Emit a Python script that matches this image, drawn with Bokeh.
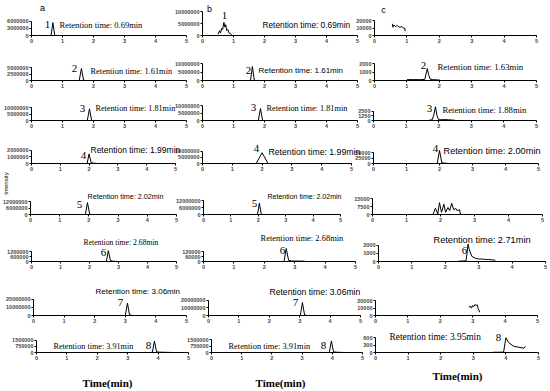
import math
from bokeh.plotting import figure
from bokeh.layouts import row, column
from bokeh.models import Range1d, FixedTicker, Label
from bokeh.embed import file_html
from bokeh.resources import INLINE

# ----------------------------- data -----------------------------
x_ticks = [0, 1, 2, 3, 4, 5]
x_title = "Time(min)"
y_title = "Intensity"
letters = ["a", "b", "c"]

# y tick labels (top, middle) per row
a_ticks = [("6000000", "3000000"), ("5000000", "2500000"), ("10000000", "5000000"), ("2000000", "1000000"),
           ("12000000", "6000000"), ("1200000", "600000"), ("20000000", "10000000"), ("1500000", "750000")]
b_ticks = [("10000000", "5000000"), ("10000000", "5000000"), ("10000000", "5000000"), ("10000000", "5000000"),
           ("12000000", "6000000"), ("120000", "60000"), ("20000000", "10000000"), ("1500000", "750000")]
c_ticks = [("20000", "10000"), ("2000", "1000"), ("2500", "1250"), ("50000", "25000"),
           ("15000", "7500"), ("2000", "1000"), ("20000", "10000"), ("600", "300")]

# peak numbers and retention times
a_peak = ["1", "2", "3", "4", "5", "6", "7", "8"]
b_peak = ["1", "2", "3", "4", "5", "6", "7", "8"]
c_peak = [None, "2", "3", "4", None, "6", None, "8"]
a_rt = ["0.69", "1.61", "1.81", "1.99", "2.02", "2.68", "3.06", "3.91"]
b_rt = ["0.69", "1.61", "1.81", "1.99", "2.02", "2.68", "3.06", "3.91"]
c_rt = [None, "1.63", "1.88", "2.00", None, "2.71", None, "3.95"]

# traces: time (min) and intensity
a1_t = [0, 0.63, 0.69, 0.75, 5]
a1_i = [0, 0, 5400000, 0, 0]
b1_t = [0.5, 0.55, 0.58, 0.62, 0.65, 0.69, 0.72, 0.75, 0.78, 0.82, 0.86, 0.9, 0.95]
b1_i = [500000, 2000000, 1000000, 3000000, 2500000, 5500000, 3500000, 4500000, 2000000, 2500000, 1000000, 800000, 0]
c1_t = [0.55, 0.57, 0.6, 0.65, 0.7, 0.75, 0.8, 0.85, 0.9, 0.93, 0.95]
c1_i = [15600, 11000, 14000, 12000, 13300, 11500, 11000, 12000, 9500, 10000, 5700]

a2_t = [0, 1.54, 1.61, 1.68, 1.75, 5]
a2_i = [0, 0, 4600000, 100000, 0, 0]
b2_t = [0, 1.55, 1.61, 1.67, 1.72, 5]
b2_i = [0, 0, 8200000, 300000, 0, 0]
c2_t = [1.0, 1.2, 1.4, 1.55, 1.6, 1.63, 1.67, 1.72, 1.8, 1.9, 2.0, 2.02]
c2_i = [100, 110, 100, 120, 900, 1400, 700, 150, 100, 80, 60, 0]

a3_t = [0, 1.8, 1.87, 1.94, 5]
a3_i = [0, 0, 9000000, 0, 0]
b3_t = [0, 1.8, 1.87, 1.94, 5]
b3_i = [0, 0, 8000000, 0, 0]
c3_t = [1.7, 1.75, 1.8, 1.85, 1.9, 1.95, 2.0, 2.05, 2.1, 2.2, 2.3, 2.4, 2.5]
c3_i = [50, 150, 200, 1500, 3700, 1200, 200, 250, 200, 250, 200, 150, 50]

a4_t = [0, 1.93, 2.0, 2.07, 2.15, 2.3, 5]
a4_i = [0, 0, 1470000, 150000, 50000, 0, 0]
b4_t = [0, 1.8, 2.0, 2.2, 5]
b4_i = [0, 0, 8700000, 0, 0]
c4_t = [0, 1.93, 2.0, 2.07, 2.15, 2.3, 5]
c4_i = [0, 0, 59000, 4000, 1500, 0, 0]

a5_t = [0, 1.88, 1.95, 2.03, 5]
a5_i = [0, 0, 11000000, 0, 0]
b5_t = [0, 1.97, 2.04, 2.11, 5]
b5_i = [0, 0, 9700000, 0, 0]
c5_t = [1.78, 1.85, 1.92, 1.97, 2.03, 2.1, 2.15, 2.22, 2.27, 2.33, 2.39, 2.45, 2.49, 2.56, 2.59]
c5_i = [0, 6000, 600, 11100, 2100, 9600, 2100, 6600, 3600, 10500, 4500, 5700, 3600, 4500, 0]

a6_t = [0, 2.58, 2.65, 2.72, 2.8, 3.0, 5]
a6_i = [0, 0, 1300000, 120000, 40000, 0, 0]
b6_t = [0, 2.65, 2.72, 2.8, 2.9, 3.3, 3.35, 5]
b6_i = [0, 0, 156000, 15000, 6000, 4000, 0, 0]
c6_t = [2.4, 2.5, 2.62, 2.65, 2.68, 2.72, 2.8, 2.9, 3.0, 3.1, 3.2, 3.3, 3.4, 3.5]
c6_i = [50, 50, 80, 1000, 2100, 1400, 600, 400, 300, 300, 250, 250, 200, 150]

a7_t = [0, 3.0, 3.07, 3.14, 3.25, 5]
a7_i = [0, 0, 15300000, 600000, 0, 0]
b7_t = [0, 3.02, 3.09, 3.16, 3.25, 5]
b7_i = [0, 0, 16800000, 600000, 0, 0]
c7_t = [2.88, 2.93, 2.96, 3.0, 3.03, 3.07, 3.11, 3.14, 3.17, 3.2, 3.21]
c7_i = [11100, 12400, 9800, 13300, 11600, 14700, 13300, 14200, 8900, 6700, 4400]

a8_t = [0, 3.81, 3.88, 3.95, 4.05, 4.5, 5]
a8_i = [0, 0, 1400000, 80000, 40000, 0, 0]
b8_t = [0, 3.9, 3.97, 4.04, 4.15, 4.4, 5]
b8_i = [0, 0, 1370000, 80000, 30000, 0, 0]
c8_t = [3.6, 3.75, 3.9, 3.93, 4.0, 4.09, 4.24, 4.4, 4.55, 4.6]
c8_i = [10, 10, 15, 20, 590, 390, 250, 210, 170, 250]

traces = {
    "a": [(a1_t, a1_i), (a2_t, a2_i), (a3_t, a3_i), (a4_t, a4_i), (a5_t, a5_i), (a6_t, a6_i), (a7_t, a7_i), (a8_t, a8_i)],
    "b": [(b1_t, b1_i), (b2_t, b2_i), (b3_t, b3_i), (b4_t, b4_i), (b5_t, b5_i), (b6_t, b6_i), (b7_t, b7_i), (b8_t, b8_i)],
    "c": [(c1_t, c1_i), (c2_t, c2_i), (c3_t, c3_i), (c4_t, c4_i), (c5_t, c5_i), (c6_t, c6_i), (c7_t, c7_i), (c8_t, c8_i)],
}
ticks = {"a": a_ticks, "b": b_ticks, "c": c_ticks}
peaks = {"a": a_peak, "b": b_peak, "c": c_peak}
rts = {"a": a_rt, "b": b_rt, "c": c_rt}

# ----------------------------- layout (reference pixel geometry, 1:1) -----------------------------
SERIF = "Liberation Serif"
SANS = "Liberation Sans"
PAGE_W, PAGE_H = 550, 391

# frame: x of t=0, x of t=5, y of baseline, y of top tick
geo = {
    "a": [(31, 186, 35, 20.7), (31, 186, 80, 67), (31, 186, 120, 107), (31, 175, 167, 152),
          (30, 176, 214, 201), (31, 176, 261, 251), (33, 186, 317, 300), (36, 188, 357, 342)],
    "b": [(202, 357, 35, 11), (202, 357, 80, 63), (202, 357, 120, 105), (202, 351, 166, 152.3),
          (203, 340, 214, 200), (203, 355, 261, 251), (208, 360, 317, 300.7), (211, 362, 356, 341)],
    "c": [(374, 536, 35, 20), (374, 536, 80, 63), (373, 536, 120, 110.7), (373, 538, 163, 152),
          (372, 542, 215.7, 199), (378, 545, 261.7, 245), (375, 537, 315, 300), (375, 538, 352, 337)],
}
num_pos = {
    "a": [(47, 24), (74, 68), (82, 108), (83, 155), (79, 204), (103, 252), (120, 302), (148, 345)],
    "b": [(224, 15), (248, 70), (253, 107), (256, 148), (254, 203), (282, 250), (295, 302), (323, 345)],
    "c": [None, (423, 65), (429, 108), (435, 148), None, (464, 250), None, (498, 337)],
}
rt_pos = {
    "a": [(59, 24, SERIF, 8.5), (90, 71, SERIF, 8.4), (95, 108, SERIF, 8.2), (90, 149, SANS, 8.5),
          (87, 196, SANS, 7.2), (83, 242, SERIF, 7.7), (95, 291, SANS, 8.0), (53, 346, SERIF, 8.2)],
    "b": [(262, 24, SANS, 8.3), (258, 70, SANS, 8.0), (266, 108, SERIF, 8.3), (268, 151, SANS, 8.7),
          (267, 196, SANS, 7.0), (260, 237, SERIF, 8.5), (269, 291, SANS, 8.6), (228, 346, SERIF, 8.4)],
    "c": [None, (437, 66, SERIF, 8.8), (442, 109, SERIF, 8.6), (443, 150, SANS, 9.2),
          None, (433, 239, SANS, 9.2), None, (389, 336, SERIF, 9.4)],
}
letter_pos = {"a": (42, 7), "b": (209, 8), "c": (383, 9)}
intensity_pos = (5, 183)
title_pos = {"a": (107, 382), "b": (280, 382), "c": (457, 375)}

band_top = [0, 48, 93, 135, 182, 228, 277, 329]
band_bot = [48, 93, 135, 182, 228, 277, 329, PAGE_H]
EXT_TOP = 14
EXT_BOT = 22
pt = [band_top[0]] + [t - EXT_TOP for t in band_top[1:]]
pb = [b + EXT_BOT for b in band_bot[:-1]] + [band_bot[-1]]

rows = []
for r in range(8):
    H = pb[r] - pt[r]
    figs = []
    prev_end = 0
    for col in letters:
        x0, x5, B, Tp = geo[col][r]
        L = 40
        R = 24 if col != "c" else PAGE_W - x5
        FL = x0 - L
        W = L + (x5 - x0) + R
        ml = FL - prev_end
        prev_end = FL + W
        top_lab, mid_lab = ticks[col][r]
        T = float(top_lab)
        ft = band_top[r] - pt[r] + 1
        fb = round(B) - pt[r]
        mbb = H - fb
        ppu = (round(B) - Tp) / T
        y_end = (fb - ft) / ppu

        p = figure(width=W, height=H, x_range=Range1d(0, 5), y_range=Range1d(0, y_end),
                   output_backend="svg", toolbar_location=None,
                   min_border_left=L, min_border_right=R, min_border_top=ft, min_border_bottom=mbb,
                   border_fill_alpha=0, background_fill_alpha=0, outline_line_color=None)
        p.margin = (0, 0, 0, ml)
        p.grid.visible = False
        t, inten = traces[col][r]
        p.line(t, inten, line_color="black", line_width=1)

        p.xaxis.ticker = FixedTicker(ticks=x_ticks)
        p.yaxis.ticker = FixedTicker(ticks=[0, T / 2, T])
        p.yaxis.major_label_overrides = {0: "0", T / 2: mid_lab, T: top_lab}
        p.yaxis.bounds = (0, T)
        for ax in p.axis:
            ax.axis_line_color = "black"
            ax.axis_line_width = 1
            ax.major_tick_line_color = "black"
            ax.major_tick_out = 2
            ax.major_tick_in = 0
            ax.minor_tick_out = 0
            ax.minor_tick_in = 0
            ax.major_label_text_font = SANS
            ax.major_label_text_font_style = "bold"
            ax.major_label_text_font_size = "5.5px"
            ax.major_label_standoff = 1
        figs.append(p)
    rw = row(*figs)
    if r > 0:
        rw.margin = (pt[r] - pb[r - 1], 0, 0, 0)
    rows.append(rw)

# transparent overlay holding all free texts, in reference pixel coordinates
ov = figure(width=PAGE_W, height=PAGE_H, x_range=Range1d(0, PAGE_W), y_range=Range1d(PAGE_H, 0),
            x_axis_type=None, y_axis_type=None,
            output_backend="svg", toolbar_location=None, min_border=0,
            border_fill_alpha=0, background_fill_alpha=0, outline_line_color=None)
ov.margin = (-PAGE_H, 0, 0, 0)


def lab(x, y, text, font, size, align="left", angle=0.0, style="normal"):
    ov.add_layout(Label(x=x, y=y, text=text, text_font=font, text_font_size="%.1fpx" % size,
                        text_align=align, text_baseline="middle", text_color="black",
                        angle=angle, text_font_style=style))


for col in letters:
    for r in range(8):
        if peaks[col][r] is not None:
            nx, ny = num_pos[col][r]
            lab(nx, ny, peaks[col][r], SERIF, 11, align="center")
        if rts[col][r] is not None:
            rx, ry, fam, fs = rt_pos[col][r]
            lab(rx, ry, "Retention time: %smin" % rts[col][r], fam, fs)
    lx, ly = letter_pos[col]
    lab(lx, ly, col, SANS, 9, align="center")
    tx, ty = title_pos[col]
    lab(tx, ty, x_title, SERIF, 11, align="center", style="bold")
lab(intensity_pos[0], intensity_pos[1], y_title, SANS, 6, align="center", angle=math.pi / 2)

p = column(*rows, ov)
open("out.html", "w").write(file_html(p, INLINE))
